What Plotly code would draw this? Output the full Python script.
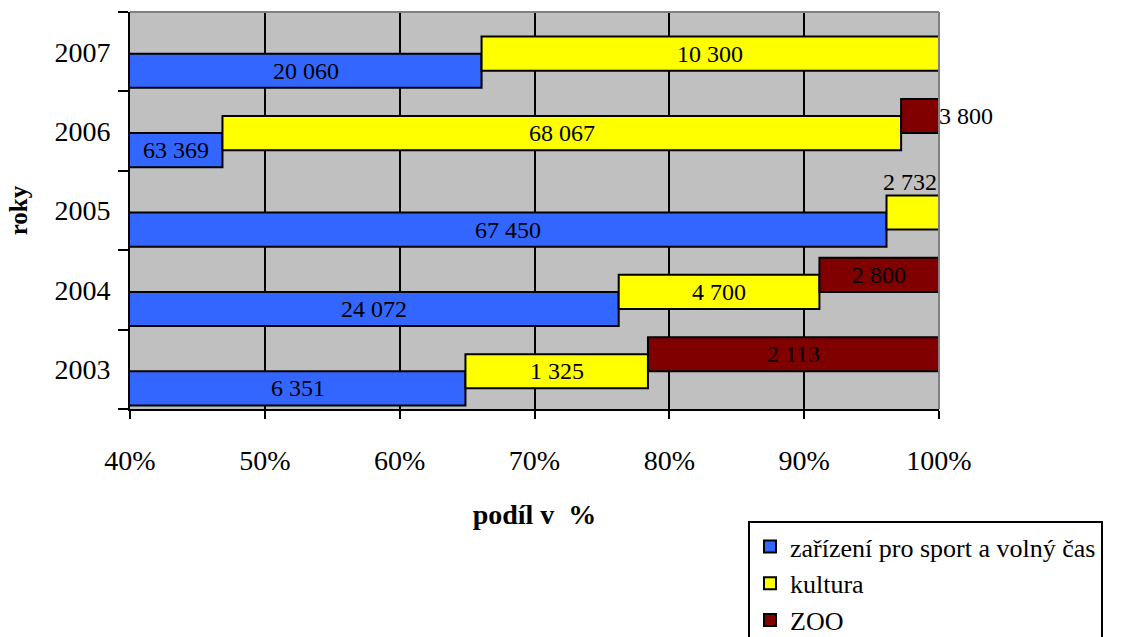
import plotly.graph_objects as go

years = ["2003", "2004", "2005", "2006", "2007"]
series_names = ["zařízení pro sport a volný čas", "kultura", "ZOO"]
sport = [6351, 24072, 67450, 63369, 20060]
kultura = [1325, 4700, 2732, 68067, 10300]
zoo = [2113, 2800, 0, 3800, 0]
x_ticks = [40, 50, 60, 70, 80, 90, 100]

colors = ["#3366FF", "#FFFF00", "#800000"]
offsets = [-0.455, -0.24, -0.025]
bar_w = 0.43
label_pos = {("2005", 1): "above", ("2006", 2): "right"}
FONT = "Liberation Serif"
XMIN, XMAX = 40, 100

series = [sport, kultura, zoo]
totals = [sum(s[i] for s in series) for i in range(len(years))]
pcts = [[v / t * 100 for v, t in zip(s, totals)] for s in series]
bases = []
cum = [0.0] * len(years)
for p in pcts:
    bases.append(cum[:])
    cum = [c + v for c, v in zip(cum, p)]

fig = go.Figure()
annotations = []
for k, name in enumerate(series_names):
    fig.add_trace(go.Bar(
        y=years, x=pcts[k], base=bases[k], orientation="h", name=name,
        offset=offsets[k], width=bar_w,
        marker=dict(color=colors[k], line=dict(color="black", width=2)),
        hoverinfo="skip",
    ))
    for i, y in enumerate(years):
        v = series[k][i]
        if v == 0:
            continue
        lo = max(bases[k][i], XMIN)
        hi = bases[k][i] + pcts[k][i]
        yc = i + offsets[k] + bar_w / 2
        txt = f"{v:,}".replace(",", " ")
        pos = label_pos.get((y, k), "center")
        if pos == "center":
            annotations.append(dict(x=(lo + hi) / 2, y=yc, text=txt, showarrow=False,
                                    xanchor="center", yanchor="middle"))
        elif pos == "above":
            annotations.append(dict(x=hi, y=yc + bar_w / 2, text=txt, showarrow=False,
                                    xanchor="right", yanchor="bottom", yshift=-2))
        else:
            annotations.append(dict(x=hi, y=yc, text=txt, showarrow=False,
                                    xanchor="left", yanchor="middle", xshift=-2))

for a in annotations:
    a["font"] = dict(family=FONT, size=24, color="black")
    a["xref"] = "x"
    a["yref"] = "y"

fig.update_layout(
    width=1128, height=637,
    margin=dict(l=130, r=189, t=12, b=228, autoexpand=False),
    paper_bgcolor="white", plot_bgcolor="#C0C0C0",
    barmode="overlay",
    font=dict(family=FONT, size=28, color="black"),
    showlegend=True,
    legend=dict(xref="container", yref="container", x=748 / 1128, y=1 - 521 / 637,
                xanchor="left", yanchor="top",
                bordercolor="black", borderwidth=2, bgcolor="white",
                traceorder="normal", font=dict(family=FONT, size=26),
                tracegroupgap=0, itemwidth=30),
    annotations=annotations,
    shapes=[
        dict(type="line", xref="paper", yref="paper", x0=0, x1=1, y0=1, y1=1,
             line=dict(color="#808080", width=2), layer="above"),
        dict(type="line", xref="paper", yref="paper", x0=1, x1=1, y0=0, y1=1,
             line=dict(color="#808080", width=2), layer="above"),
    ],
)
fig.update_xaxes(
    range=[XMIN, XMAX], tickvals=x_ticks, ticktext=[f"{t}%" for t in x_ticks],
    showgrid=True, gridcolor="black", gridwidth=2, zeroline=False,
    showline=True, linecolor="black", linewidth=2,
    ticks="outside", ticklen=8, tickcolor="black", tickwidth=2,
    ticklabelstandoff=17, tickfont=dict(family=FONT, size=28), automargin=False,
    title=dict(text="<b>podíl v  %</b>", font=dict(family=FONT, size=28), standoff=30),
)
fig.update_yaxes(
    type="category", categoryorder="array", categoryarray=years,
    range=[-0.5, len(years) - 0.5],
    showgrid=False, zeroline=False,
    showline=True, linecolor="black", linewidth=2,
    ticks="outside", ticklen=10, tickcolor="black", tickwidth=2, tickson="boundaries",
    ticklabelstandoff=12, tickfont=dict(family=FONT, size=28), automargin=False,
    title=dict(text="<b>roky</b>", font=dict(family=FONT, size=25), standoff=20),
)

fig.write_html("out.html", config={"displayModeBar": False},
               post_script="document.body.style.margin='0';")
